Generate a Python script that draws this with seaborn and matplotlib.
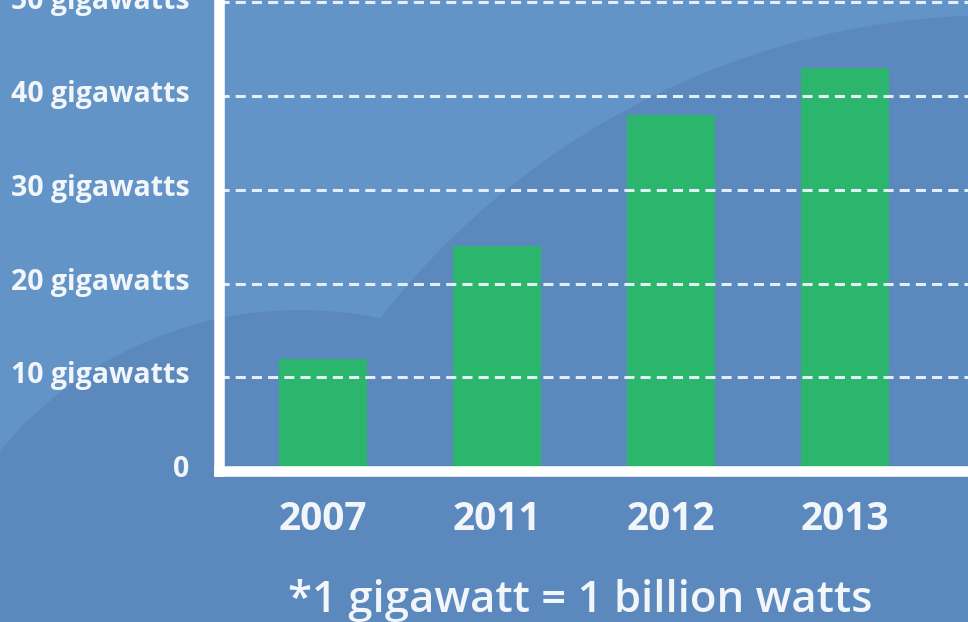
import matplotlib
matplotlib.use("Agg")
import matplotlib.pyplot as plt
import matplotlib.transforms as mtransforms
from matplotlib.patches import Circle
import seaborn as sns
import pandas as pd

# ---- data ----
years = ["2007", "2011", "2012", "2013"]
capacity_gw = [12, 24, 38, 43]
y_ticks = [0, 10, 20, 30, 40, 50]
y_tick_labels = ["0", "10 gigawatts", "20 gigawatts", "30 gigawatts",
                 "40 gigawatts", "50 gigawatts"]
footnote = "*1 gigawatt = 1 billion watts"

# ---- style ----
sns.set_style("white")
plt.rcParams["font.family"] = ["Open Sans", "DejaVu Sans"]

BG_LIGHT = "#6394c8"
BG_DARK = "#5b89bd"
GREEN = "#2cb56c"
TEXT = "#f2f6fa"

W, H = 968, 622
fig = plt.figure(figsize=(W / 100, H / 100), dpi=100)
fig.patch.set_facecolor(BG_LIGHT)

# background shapes
bg = fig.add_axes([0, 0, 1, 1], zorder=-10)
bg.set_xlim(0, W)
bg.set_ylim(H, 0)
bg.axis("off")
bg.add_patch(Circle((1000, 800), 785, facecolor=BG_DARK, edgecolor="none"))
bg.add_patch(Circle((300, 700), 390, facecolor=BG_DARK, edgecolor="none"))

# main axes
left = 218.5 / W
bottom = (H - 471) / H
ax = fig.add_axes([left, bottom, 1 - left, 1 - bottom])
ax.patch.set_alpha(0)

df = pd.DataFrame({"year": years, "gw": capacity_gw})
sns.barplot(data=df, x="year", y="gw", color=GREEN, saturation=1,
            width=0.51, linewidth=0, ax=ax)

ax.set_xlim(-0.6006, 3.707)
ax.set_ylim(0, 471 / 9.37)
ax.set_xlabel("")
ax.set_ylabel("")

ax.set_yticks(y_ticks)
ax.set_yticklabels(y_tick_labels)

for s in ["top", "right"]:
    ax.spines[s].set_visible(False)
for s in ["left", "bottom"]:
    ax.spines[s].set_color("white")
    ax.spines[s].set_linewidth(7.6)
    ax.spines[s].set_zorder(5)

ax.set_axisbelow(False)
ax.yaxis.grid(True, color="#e4eef8", linewidth=2.2, linestyle=(0, (3.3, 2.0)))
ax.xaxis.grid(False)

ax.tick_params(axis="y", length=0, pad=21, labelsize=20.5, labelcolor=TEXT)
ax.tick_params(axis="x", length=0, pad=21, labelsize=28, labelcolor=TEXT)
for lab in ax.get_yticklabels():
    lab.set_fontweight("bold")
    lab.set_transform(lab.get_transform() +
                      mtransforms.ScaledTranslation(0, 5 / 100, fig.dpi_scale_trans))
for lab in ax.get_xticklabels():
    lab.set_fontweight("bold")

fig.text(580 / W, 1 - 600 / H, footnote, ha="center", va="center",
         fontsize=31.5, fontweight="semibold", color=TEXT)

fig.savefig("out.png", dpi=100, facecolor=fig.get_facecolor())
